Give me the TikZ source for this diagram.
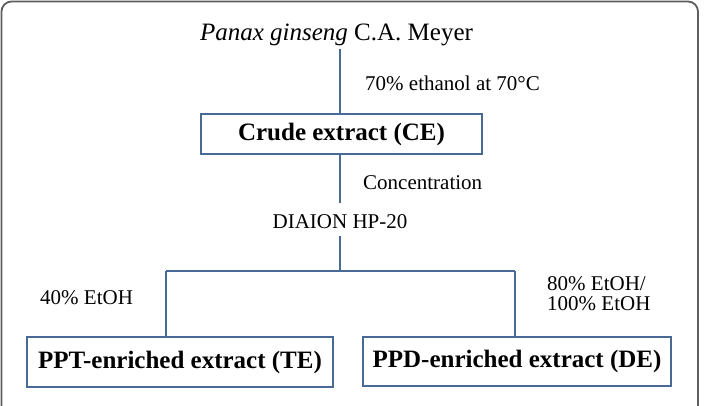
\documentclass[tikz,border=0pt]{standalone}
\usepackage{fontspec}
\setmainfont{Liberation Serif}
\usepackage{xcolor}
\usetikzlibrary{positioning,calc}
\definecolor{flowblue}{HTML}{4A6A96}
\definecolor{frame}{HTML}{5E5E5E}

\begin{document}
\begin{tikzpicture}[
  x=1pt, y=-1pt,
  font=\fontsize{21}{19.5}\selectfont,
  extract/.style={draw=flowblue, line width=1.8pt, fill=white, inner sep=0pt,
      font=\fontsize{25}{28}\selectfont\bfseries},
  lbl/.style={inner sep=0pt, align=left},
  link/.style={flowblue, line width=1.8pt},
]
\clip (0,0) rectangle (705,405);
\draw[frame, line width=1.8pt, rounded corners=10pt] (1.5,1.5) rectangle (698,430);

\node[inner sep=0pt, anchor=base, font=\fontsize{25}{28}\selectfont] (plant) at (336.5,40)
   {\textit{Panax ginseng} C.A. Meyer};
\node[extract, minimum width=281pt, minimum height=40pt] (crude) at (341.5,134)
   {Crude extract (CE)};
\node[lbl, inner ysep=0pt] (diaion) at (340,222) {DIAION HP-20};
\node[extract, minimum width=306pt, minimum height=50pt] (ppt) at (180,362)
   {PPT-enriched extract (TE)};
\node[extract, minimum width=308pt, minimum height=49pt] (ppd) at (517,361.5)
   {PPD-enriched extract (DE)};

\coordinate (fork) at (340,271);
\coordinate (forkL) at (166,271);
\coordinate (forkR) at (515,271);

\node[lbl, anchor=west] (etoh70) at (365,83) {70\% ethanol at 70°C};
\node[lbl, anchor=west] (conc) at (363,183) {Concentration};
\node[lbl, anchor=west] (etoh40) at (40,298) {40\% EtOH};
\node[lbl, anchor=west] (etoh80) at (547,293.5) {80\% EtOH/\\100\% EtOH};

\draw[link] ([yshift=-3pt]plant.south -| fork) -- (crude.north -| fork);
\draw[link] (crude.south -| fork) -- ([yshift=12pt]diaion.north);
\draw[link] ([yshift=-7pt]diaion.south) -- (fork);
\draw[link] (forkL) -- (forkR);
\draw[link] (forkL) -- (forkL |- ppt.north);
\draw[link] (forkR) -- (forkR |- ppd.north);
\end{tikzpicture}
\end{document}
